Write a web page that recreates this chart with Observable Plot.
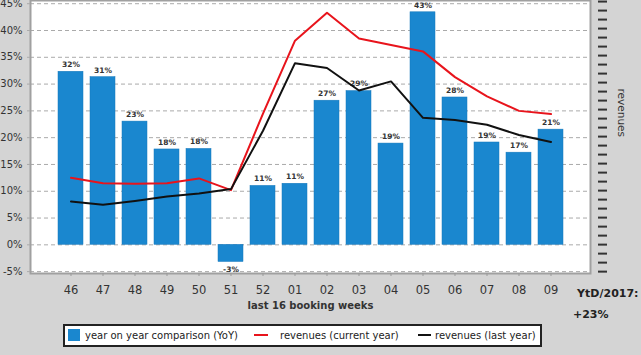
<!DOCTYPE html>
<html>
<head>
<meta charset="utf-8">
<script src="https://cdn.jsdelivr.net/npm/d3@7"></script>
<script src="https://cdn.jsdelivr.net/npm/@observablehq/plot@0.6"></script>
<style>
  html, body { margin: 0; padding: 0; background: #d4d4d4; }
  #wrap { position: relative; width: 641px; height: 355px; overflow: hidden; background: #d4d4d4; font-family: "DejaVu Sans", sans-serif; }
  #chart svg { display: block; }
  #legend { position: absolute; left: 63px; top: 324px; width: 475px; height: 19px; border: 2px solid #222; background: #fff; font-size: 10px; color: #222; }
  #legend .it { position: absolute; top: 0; height: 19px; line-height: 19px; white-space: nowrap; }
  #legend .sw { position: absolute; }
</style>
</head>
<body>
<div id="wrap">
  <div id="chart"></div>
  <div id="legend">
    <span class="sw" style="left:3px;top:3px;width:12px;height:12px;background:#1a87cf;"></span>
    <span class="it" style="left:20px;">year on year comparison (YoY)</span>
    <span class="sw" style="left:189px;top:8px;width:14px;height:2px;background:#e8141c;"></span>
    <span class="it" style="left:215px;">revenues (current year)</span>
    <span class="sw" style="left:353px;top:8px;width:13px;height:2px;background:#111;"></span>
    <span class="it" style="left:370px;">revenues (last year)</span>
  </div>
</div>
<script>
const weeks = ["46","47","48","49","50","51","52","01","02","03","04","05","06","07","08","09"];
const yoy = [32.3, 31.3, 23.0, 17.8, 17.9, -3.2, 11.0, 11.4, 26.9, 28.7, 18.9, 43.4, 27.5, 19.1, 17.2, 21.5];
const yoyLabels = ["32%","31%","23%","18%","18%","-3%","11%","11%","27%","29%","19%","43%","28%","19%","17%","21%"];
const revCurrent = [12.5, 11.5, 11.4, 11.5, 12.4, 10.2, 24.5, 38.1, 43.3, 38.5, 37.3, 36.1, 31.3, 27.7, 25.0, 24.4];
const revLast = [8.1, 7.5, 8.2, 9.0, 9.6, 10.4, 21.3, 33.9, 33.0, 28.8, 30.5, 23.7, 23.3, 22.4, 20.5, 19.2];
const yTicks = [-5, 0, 5, 10, 15, 20, 25, 30, 35, 40, 45];
const revenueTicks = d3.range(-5, 46, 1.68);

const data = weeks.map((w, i) => ({week: w, yoy: yoy[i], label: yoyLabels[i], cur: revCurrent[i], last: revLast[i]}));

const chart = Plot.plot({
  width: 641,
  height: 322,
  marginLeft: 30,
  marginRight: 51,
  marginTop: 0,
  marginBottom: 49,
  style: {background: "transparent", fontFamily: "DejaVu Sans, sans-serif", overflow: "visible"},
  x: {domain: weeks, paddingInner: 0.22, paddingOuter: 0.86, label: null},
  y: {domain: [-5.35, 45.6], label: null},
  marks: [
    Plot.frame({fill: "#fff", stroke: null}),
    Plot.gridY(yTicks, {stroke: "#aaa", strokeOpacity: 1, strokeDasharray: "4,3"}),
    Plot.barY(data, {x: "week", y: "yoy", fill: "#1a87cf", stroke: "#1779bb", strokeWidth: 0.5}),
    Plot.text(data.filter(d => d.yoy >= 0), {x: "week", y: "yoy", text: "label", dy: -7, fontSize: 7.5, fontWeight: "bold", fill: "#333"}),
    Plot.text(data.filter(d => d.yoy < 0), {x: "week", y: "yoy", text: "label", dy: 8, fontSize: 7.5, fontWeight: "bold", fill: "#333"}),
    Plot.line(data, {x: "week", y: "cur", stroke: "#e8141c", strokeWidth: 2}),
    Plot.line(data, {x: "week", y: "last", stroke: "#111", strokeWidth: 2}),
    Plot.frame({stroke: "#a0a0a0", strokeWidth: 2}),
    Plot.axisY({ticks: yTicks, tickFormat: d => d + "%", tickSize: 3, tickPadding: 5, stroke: "#aaa", fill: "#333", fontSize: 10}),
    Plot.axisY({anchor: "right", ticks: revenueTicks, tickFormat: () => "", tickSize: 9, dx: 7, stroke: "#333", strokeWidth: 2, label: null}),
    Plot.axisX({tickSize: 3, tickPadding: 9, stroke: "#999", fill: "#333", fontSize: 11.5, label: null}),
    Plot.text(["last 16 booking weeks"], {frameAnchor: "bottom", dy: 35, fontSize: 10, fontWeight: "bold", fill: "#333"}),
    Plot.text(["revenues"], {frameAnchor: "right", dx: 31, rotate: 90, fontSize: 10.5, fill: "#333"}),
    Plot.text(["YtD/2017:"], {frameAnchor: "bottom-right", dx: 48, dy: 23, textAnchor: "end", fontSize: 11, fontWeight: "bold", fill: "#222"}),
    Plot.text(["+23%"], {frameAnchor: "bottom-right", dx: 18, dy: 44, fontSize: 11, fontWeight: "bold", fill: "#222"})
  ]
});
document.getElementById("chart").appendChild(chart);
</script>
</body>
</html>
